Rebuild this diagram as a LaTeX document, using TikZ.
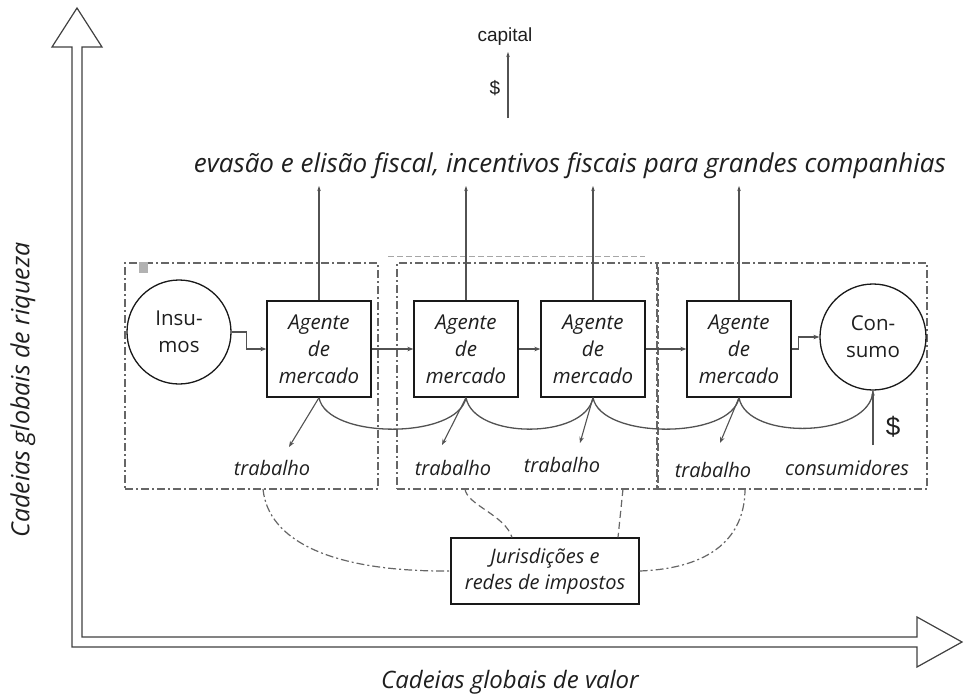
\documentclass[tikz,border=0pt]{standalone}
\usepackage{fontspec}
\setmainfont{Open Sans}
\newfontfamily\arialf{Liberation Sans}
\usetikzlibrary{arrows.meta}
\begin{document}
\begin{tikzpicture}[x=1pt,y=-1pt,
  line/.style={draw=black!68, line width=1.1pt},
  arr/.style={line, -{Stealth[length=6pt,width=4.5pt]}},
  agente/.style={draw=black!90, line width=1.3pt, fill=white, minimum width=104pt, minimum height=96pt,
    font=\fontsize{20.5}{27}\selectfont\itshape, align=center, inner sep=0pt, text=black!88},
  circ/.style={circle, draw=black!90, line width=1.3pt, fill=white, minimum size=104pt,
    font=\fontsize{20.5}{27}\selectfont, align=center, inner sep=0pt, text=black!88},
  region/.style={draw=black!60, line width=1.2pt, dash pattern=on 8pt off 3pt on 2pt off 3pt,
    inner sep=0pt},
  dashdot/.style={draw=black!60, line width=1.2pt, dash pattern=on 8pt off 3pt on 2pt off 3pt},
  dsh/.style={draw=black!60, line width=1.2pt, dash pattern=on 7pt off 4pt},
  lab/.style={font=\fontsize{20}{22}\selectfont\itshape, text=black!88, inner sep=0pt},
  juris/.style={draw=black!90, line width=1.2pt, fill=white, minimum width=188pt, minimum height=66pt,
    font=\fontsize{20}{26}\selectfont\itshape, align=center, inner sep=0pt, text=black!88},
  axis/.style={draw=black!75, line width=1.2pt, fill=white}
]
\useasboundingbox (0,0) rectangle (964,697);

% axes
\draw[axis] (72,647) -- (72,47) -- (52,47) -- (77,8) -- (102,47) -- (82,47) -- (82,637)
  -- (917,637) -- (917,617) -- (962,642) -- (917,667) -- (917,647) -- cycle;
\node[font=\fontsize{25}{28}\selectfont\itshape, text=black!88, rotate=90] (ylab) at (23,390) {Cadeias globais de riqueza};
\node[font=\fontsize{24}{28}\selectfont\itshape, text=black!88] (xlab) at (510,682) {Cadeias globais de valor};

% regions
\node[region, minimum width=253pt, minimum height=226pt] (r1) at (251.5,376) {};
\node[region, minimum width=260pt, minimum height=226pt] (r2) at (527,376) {};
\node[region, minimum width=269pt, minimum height=226pt] (r3) at (792.5,376) {};
\draw[black!35, line width=0.8pt, dash pattern=on 6pt off 3pt] (388,256) -- (645,256);
\fill[black!30] (139,262) rectangle (148,273);

% title texts
\node[font=\fontsize{26}{30}\selectfont\itshape, text=black!88] (title) at (570,166)
  {evasão e elisão fiscal, incentivos fiscais para grandes companhias};
\node[font=\arialf\fontsize{19}{22}\selectfont, text=black!88] (cap) at (505,37) {capital};
\node[font=\arialf\fontsize{19}{22}\selectfont, text=black!88] (d1) at (495,88) {\$};
\coordinate (capb) at (508,118);
\coordinate (capt) at (508,52);
\draw[arr, -{Stealth[length=5pt,width=3.5pt]}] (capb) -- (capt);

% main nodes
\node[circ] (ins) at (179,332) {Insu-\\mos};
\node[agente] (a1) at (319,349) {Agente\\de\\mercado};
\node[agente] (a2) at (466,349) {Agente\\de\\mercado};
\node[agente] (a3) at (593,349) {Agente\\de\\mercado};
\node[agente] (a4) at (739,349) {Agente\\de\\mercado};
\node[circ, minimum size=106pt] (con) at (873,337) {Con-\\sumo};

% upward arrows
\coordinate (top) at (0,186);
\foreach \n in {a1,a2,a3,a4}{
  \draw[arr, -{Stealth[length=5pt,width=3.5pt]}] (\n.north) -- (\n.north |- top);
}

% chain arrows
\draw[arr] (ins.east) -- ++(15,0) |- (a1.west);
\draw[arr] (a1.east) -- (a2.west);
\draw[arr] (a2.east) -- (a3.west);
\draw[arr] (a3.east) -- (a4.west);
\draw[arr] (a4.east) -- ++(7,0) |- (con.west);

% curves below boxes
\draw[line, line width=1.3pt] (a1.south) .. controls +(8,42) and +(-8,42) .. (a2.south);
\draw[line, line width=1.3pt] (a2.south) .. controls +(8,42) and +(-8,42) .. (a3.south);
\draw[line, line width=1.3pt] (a3.south) .. controls +(8,42) and +(-8,42) .. (a4.south);
\draw[line, line width=1.3pt] (a4.south) .. controls +(8,44) and +(-2,47) .. (con.south);

% trabalho arrows
\coordinate (t1) at (289,447);
\coordinate (t2) at (442,445);
\coordinate (t3) at (580,443);
\coordinate (t4) at (720,443);
\draw[arr] (a1.south) -- (t1);
\draw[arr] (a2.south) -- (t2);
\draw[arr] (a3.south) -- (t3);
\draw[arr] (a4.south) -- (t4);
\node[lab] (l1) at (272,468) {trabalho};
\node[lab] (l2) at (453,468) {trabalho};
\node[lab] (l3) at (562,465) {trabalho};
\node[lab] (l4) at (713,470) {trabalho};
\node[lab] (l5) at (847,468) {consumidores};

% consumer money
\coordinate (cb) at (873,445);
\draw[arr, -{Stealth[length=5pt,width=3.5pt]}] (cb) -- (con.south);
\node[font=\arialf\fontsize{26}{30}\selectfont, text=black!88] (d2) at (893,427) {\$};

% jurisdictions
\node[juris] (jur) at (545,571) {Jurisdições e\\redes de impostos};
\coordinate (e1) at (263,489);
\coordinate (e2) at (465,489);
\coordinate (e3) at (623,489);
\coordinate (e4) at (745,489);
\draw[dashdot] (e1) .. controls (268,540) and (330,572) .. (jur.west);
\draw[dsh] (e2) .. controls (467,505) and (505,515) .. ([xshift=-33pt]jur.north);
\draw[dsh] (e3) -- ([xshift=73pt]jur.north);
\draw[dashdot] (jur.east) .. controls (720,568) and (745,530) .. (e4);
\end{tikzpicture}
\end{document}
